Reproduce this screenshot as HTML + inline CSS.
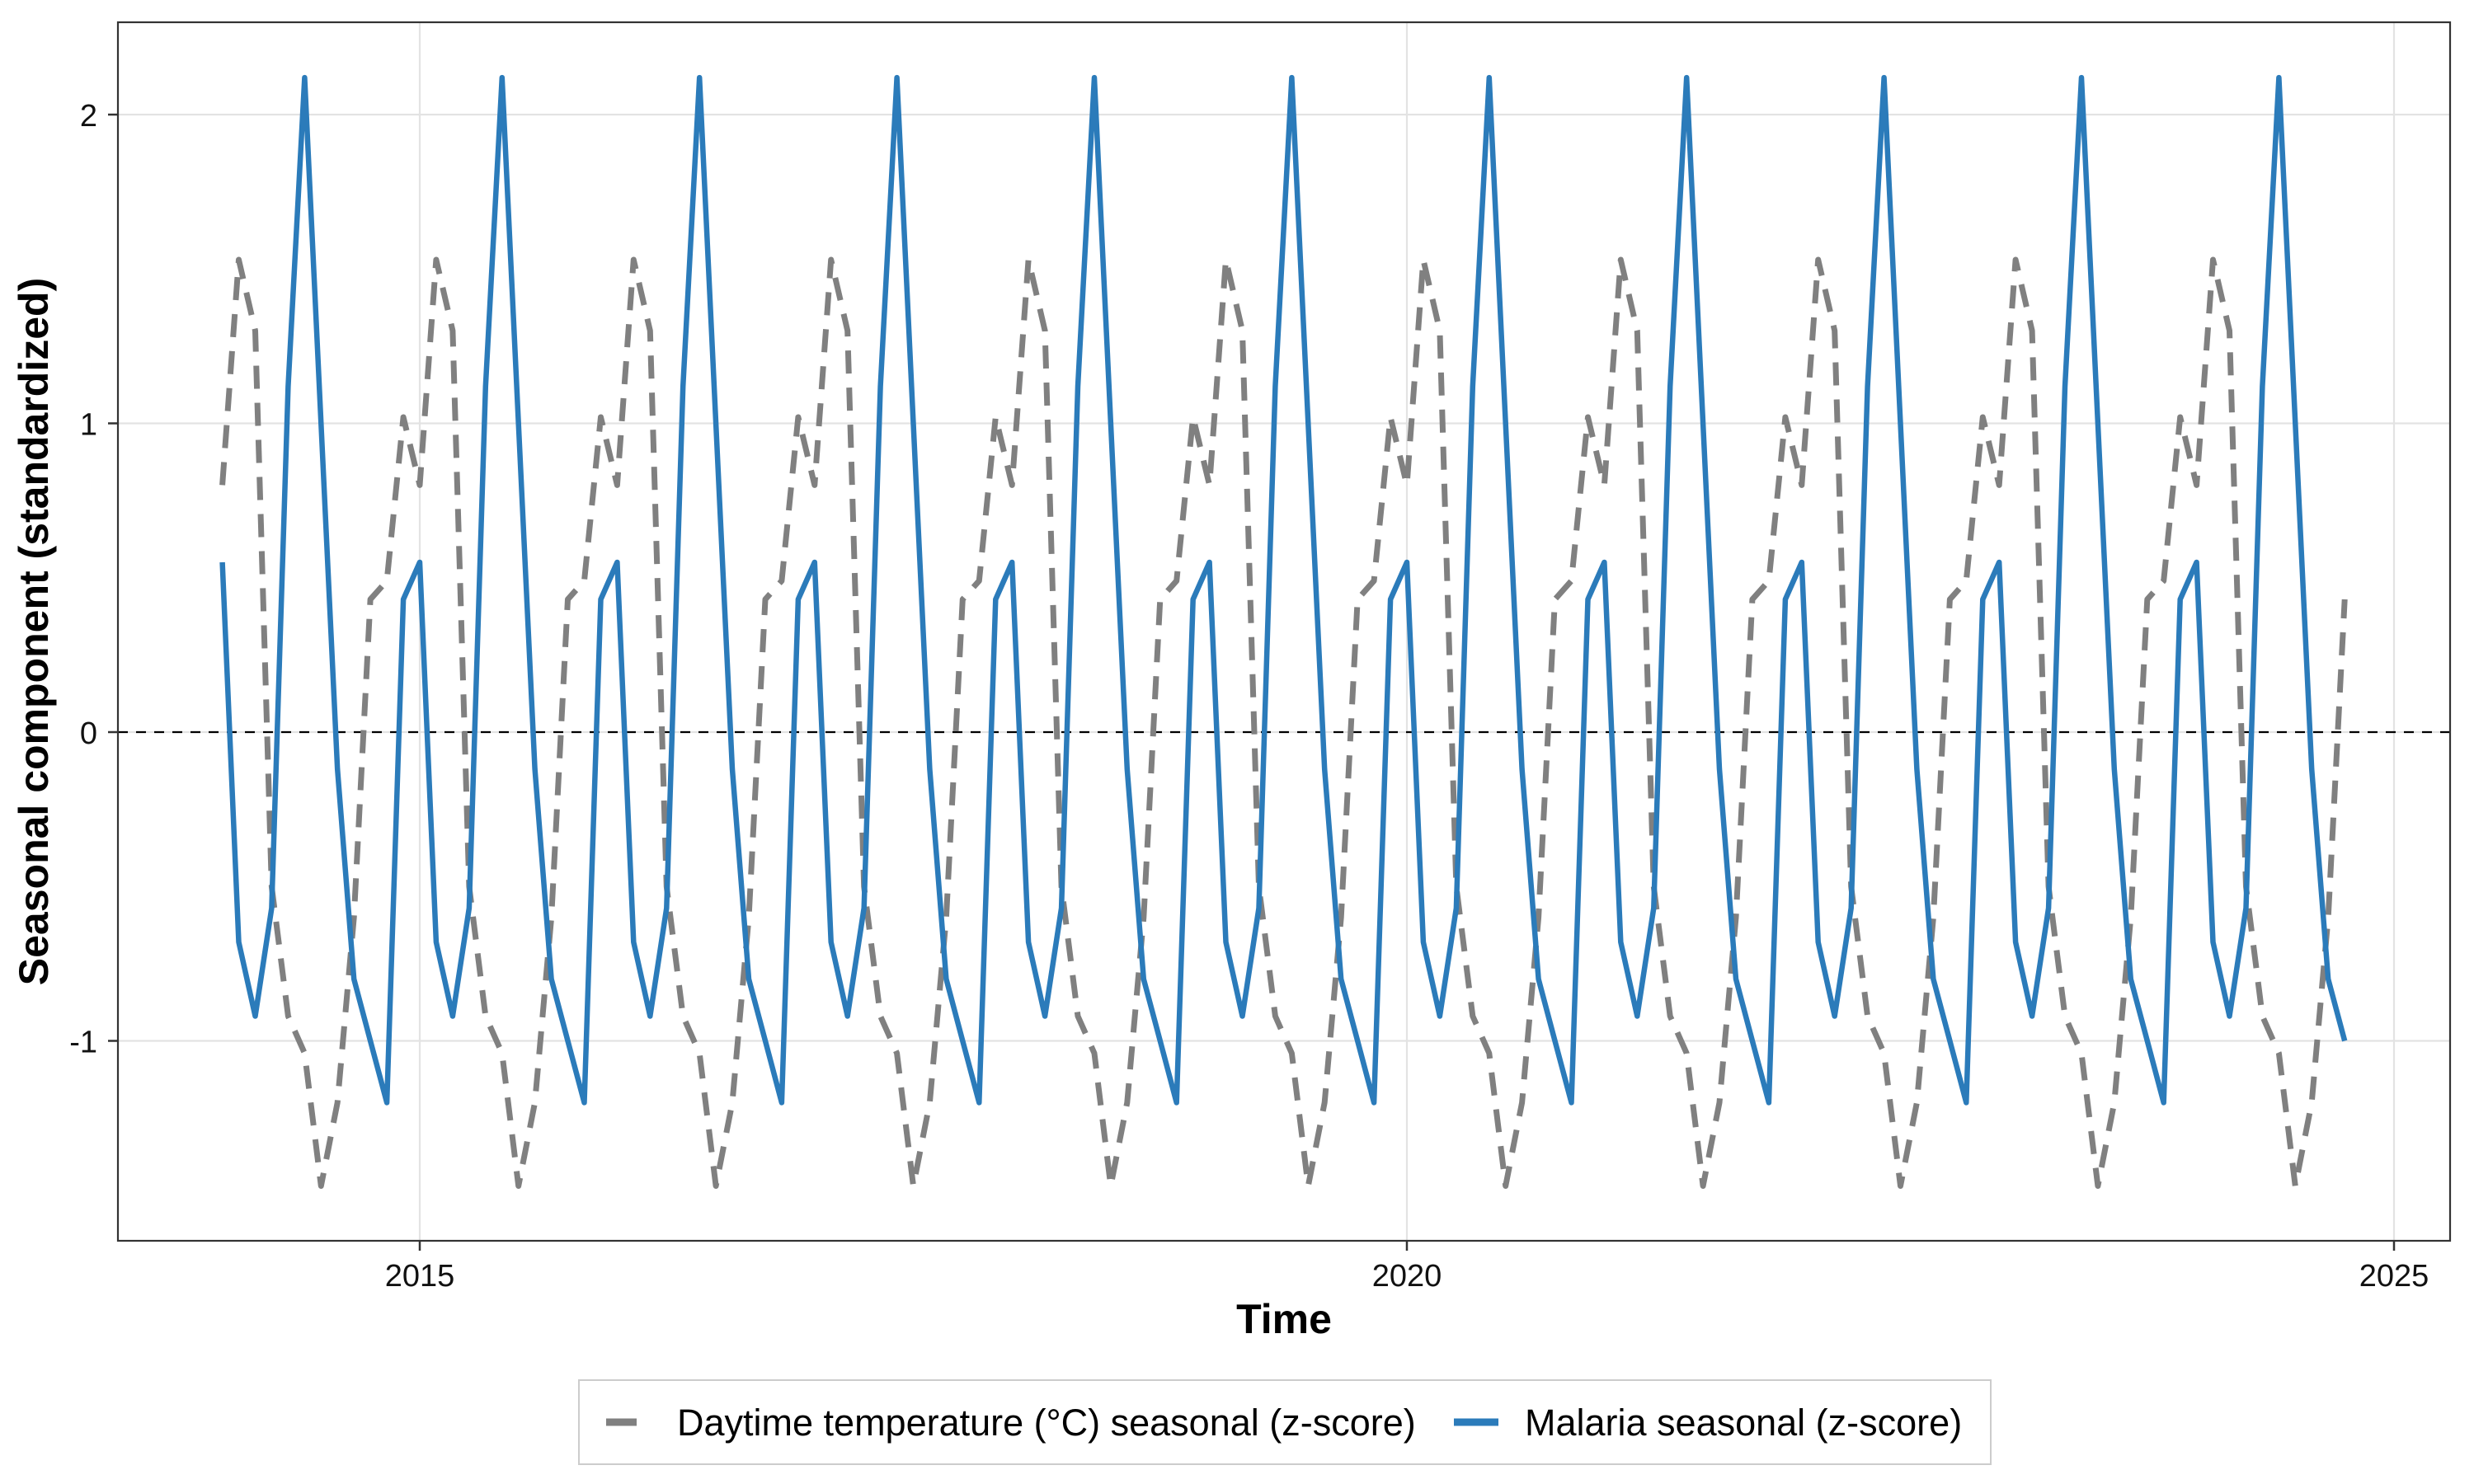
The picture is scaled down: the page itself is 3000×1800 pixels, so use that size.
<!DOCTYPE html>
<html><head><meta charset="utf-8"><style>
html,body{margin:0;padding:0;background:#fff;}
svg{display:block;font-family:"Liberation Sans",sans-serif;}
</style></head><body>
<svg id="chart" width="3000" height="1800" viewBox="0 0 3000 1800">
<rect x="0" y="0" width="3000" height="1800" fill="#fff"/>
<g id="grid"></g>
<g id="series"></g>
<rect x="143" y="27" width="2828" height="1478" fill="none" stroke="#333" stroke-width="2.2"/>
<g id="axes"></g>
<text x="58" y="766" transform="rotate(-90 58 766)" text-anchor="middle" font-size="50" font-weight="bold" fill="#000">Seasonal component (standardized)</text>
<text x="1557" y="1617" text-anchor="middle" font-size="50" font-weight="bold" fill="#000">Time</text>
<g>
<rect x="702" y="1674" width="1712" height="102" fill="#fff" stroke="#ccc" stroke-width="2"/>
<line x1="735" y1="1725" x2="772" y2="1725" stroke="#808080" stroke-width="9"/>
<text x="821" y="1741" font-size="45" fill="#000">Daytime temperature (°C) seasonal (z-score)</text>
<line x1="1763" y1="1725" x2="1817" y2="1725" stroke="#2b7bba" stroke-width="9"/>
<text x="1849" y="1741" font-size="45" fill="#000">Malaria seasonal (z-score)</text>
</g>
</svg>
<script>
const startYear = 2014;
const malaria = [
0.55,-0.68,-0.92,-0.57,1.12,2.12,1.0,-0.12,-0.8,-1.0,-1.2,0.43,
0.55,-0.68,-0.92,-0.57,1.12,2.12,1.0,-0.12,-0.8,-1.0,-1.2,0.43,
0.55,-0.68,-0.92,-0.57,1.12,2.12,1.0,-0.12,-0.8,-1.0,-1.2,0.43,
0.55,-0.68,-0.92,-0.57,1.12,2.12,1.0,-0.12,-0.8,-1.0,-1.2,0.43,
0.55,-0.68,-0.92,-0.57,1.12,2.12,1.0,-0.12,-0.8,-1.0,-1.2,0.43,
0.55,-0.68,-0.92,-0.57,1.12,2.12,1.0,-0.12,-0.8,-1.0,-1.2,0.43,
0.55,-0.68,-0.92,-0.57,1.12,2.12,1.0,-0.12,-0.8,-1.0,-1.2,0.43,
0.55,-0.68,-0.92,-0.57,1.12,2.12,1.0,-0.12,-0.8,-1.0,-1.2,0.43,
0.55,-0.68,-0.92,-0.57,1.12,2.12,1.0,-0.12,-0.8,-1.0,-1.2,0.43,
0.55,-0.68,-0.92,-0.57,1.12,2.12,1.0,-0.12,-0.8,-1.0,-1.2,0.43,
0.55,-0.68,-0.92,-0.57,1.12,2.12,1.0,-0.12,-0.8,-1.0];
const temperature = [
0.8,1.53,1.3,-0.5,-0.92,-1.04,-1.47,-1.2,-0.6,0.43,0.49,1.02,
0.8,1.53,1.3,-0.5,-0.92,-1.04,-1.47,-1.2,-0.6,0.43,0.49,1.02,
0.8,1.53,1.3,-0.5,-0.92,-1.04,-1.47,-1.2,-0.6,0.43,0.49,1.02,
0.8,1.53,1.3,-0.5,-0.92,-1.04,-1.47,-1.2,-0.6,0.43,0.49,1.02,
0.8,1.53,1.3,-0.5,-0.92,-1.04,-1.47,-1.2,-0.6,0.43,0.49,1.02,
0.8,1.53,1.3,-0.5,-0.92,-1.04,-1.47,-1.2,-0.6,0.43,0.49,1.02,
0.8,1.53,1.3,-0.5,-0.92,-1.04,-1.47,-1.2,-0.6,0.43,0.49,1.02,
0.8,1.53,1.3,-0.5,-0.92,-1.04,-1.47,-1.2,-0.6,0.43,0.49,1.02,
0.8,1.53,1.3,-0.5,-0.92,-1.04,-1.47,-1.2,-0.6,0.43,0.49,1.02,
0.8,1.53,1.3,-0.5,-0.92,-1.04,-1.47,-1.2,-0.6,0.43,0.49,1.02,
0.8,1.53,1.3,-0.5,-0.92,-1.04,-1.47,-1.2,-0.6,0.43];
const xTicks = [2015, 2020, 2025];
const yTicks = [-1, 0, 1, 2];
const yTickLabels = ["-1", "0", "1", "2"];

const NS = "http://www.w3.org/2000/svg";
function xs(t){ return 509 + (t - 2015) * 239.4; }
function ys(v){ return 888 - v * 374.5; }
function mk(tag, attrs, parent){
  const e = document.createElementNS(NS, tag);
  for (const k in attrs) e.setAttribute(k, attrs[k]);
  parent.appendChild(e);
  return e;
}
const grid = document.getElementById('grid');
const axes = document.getElementById('axes');
const series = document.getElementById('series');
yTicks.forEach((v, i) => {
  const g = mk('line', {x1:143, x2:2971, y1:ys(v), y2:ys(v), stroke:'#e3e3e3', 'stroke-width':2.2}, grid);
  
  
  const t = mk('line', {x1:131, x2:143, y1:ys(v), y2:ys(v), stroke:'#333', 'stroke-width':2.5}, axes);
  
  
  const l = mk('text', {x:118, y:ys(v)+14, 'text-anchor':'end', 'font-size':38, fill:'#111'}, axes);
  l.textContent = yTickLabels[i];
  
  
});
xTicks.forEach(v => {
  const g = mk('line', {x1:xs(v), x2:xs(v), y1:27, y2:1505, stroke:'#e3e3e3', 'stroke-width':2.2}, grid);
  
  
  const t = mk('line', {x1:xs(v), x2:xs(v), y1:1505, y2:1517, stroke:'#333', 'stroke-width':2.5}, axes);
  
  
  const l = mk('text', {x:xs(v), y:1560, 'text-anchor':'middle', 'font-size':38, fill:'#111'}, axes);
  l.textContent = String(v);
  
  
});
const zl = mk('line', {x1:143, x2:2971, y1:ys(0), y2:ys(0), stroke:'#000', 'stroke-width':2.2, 'stroke-dasharray':'12 10'}, series);


function pathFor(arr){
  return arr.map((v, i) => (i ? 'L' : 'M') + xs(startYear + i / 12).toFixed(1) + ',' + ys(v).toFixed(1)).join(' ');
}
const tp = mk('path', {d:pathFor(temperature), fill:'none', stroke:'#808080', 'stroke-width':7, 'stroke-dasharray':'28 17', 'stroke-linejoin':'round'}, series);


const mp = mk('path', {d:pathFor(malaria), fill:'none', stroke:'#2b7bba', 'stroke-width':6.5, 'stroke-linejoin':'round'}, series);


</script>
</body></html>
